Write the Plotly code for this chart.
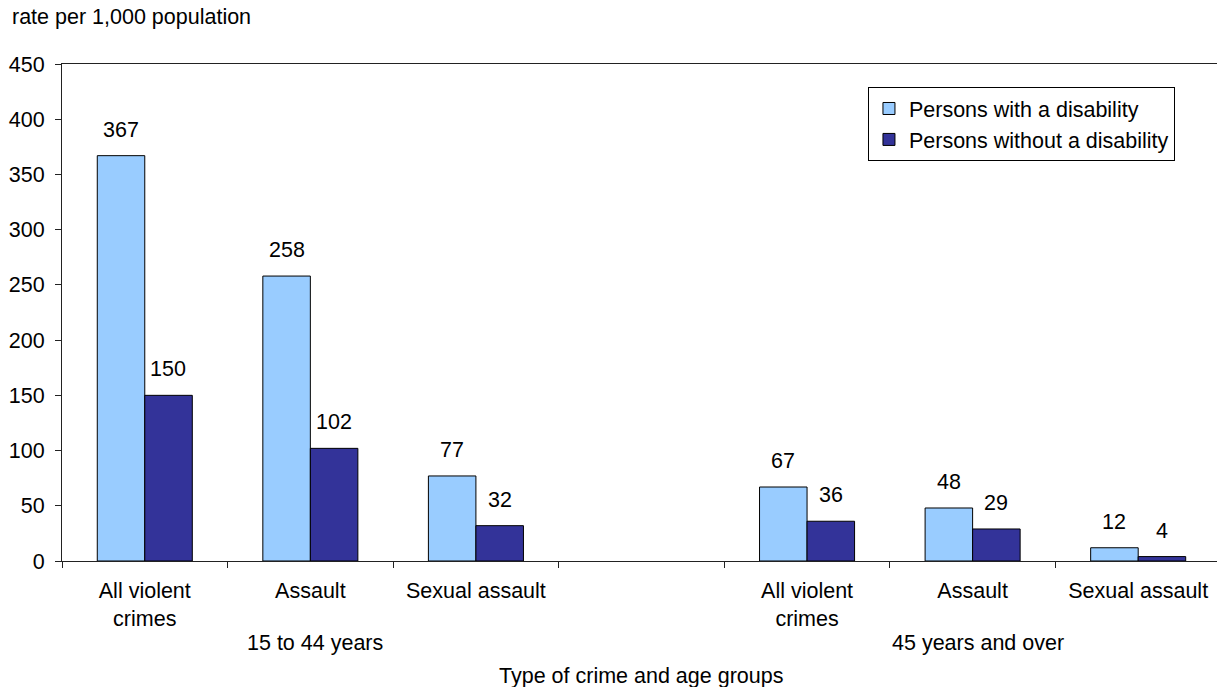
import plotly.graph_objects as go

# ---- data ----
category_ids = ["y1_all", "y1_assault", "y1_sexual", "gap", "y2_all", "y2_assault", "y2_sexual"]
category_labels = ["All violent<br>crimes", "Assault", "Sexual assault", "",
                   "All violent<br>crimes", "Assault", "Sexual assault"]
with_disability = [367, 258, 77, None, 67, 48, 12]
without_disability = [150, 102, 32, None, 36, 29, 4]
series_names = ["Persons with a disability", "Persons without a disability"]
age_groups = ["15 to 44 years", "45 years and over"]
age_group_anchor = ["y1_assault", "y2_assault"]
y_ticks = [0, 50, 100, 150, 200, 250, 300, 350, 400, 450]

FONT = "Liberation Sans, Arial, sans-serif"
FS = 21.5
LIGHT = "#99CCFF"
DARK = "#333399"
AX = "#222222"

fig = go.Figure()
for name, vals, col, grp in [(series_names[0], with_disability, LIGHT, "a"),
                             (series_names[1], without_disability, DARK, "b")]:
    fig.add_trace(go.Bar(
        x=category_ids, y=vals, name=name, legendgroup=grp,
        marker=dict(color=col, line=dict(color="black", width=1)),
    ))

# data labels above each bar
shift = {0: -23.7, 1: 23.7}
for si, vals in enumerate([with_disability, without_disability]):
    for cid, v in zip(category_ids, vals):
        if v is None:
            continue
        fig.add_annotation(x=cid, y=v, xref="x", yref="y", text=str(v),
                           showarrow=False, xshift=shift[si], yshift=26,
                           yanchor="middle", xanchor="center",
                           font=dict(family=FONT, size=FS, color="black"))

# age group labels
for lab, anchor in zip(age_groups, age_group_anchor):
    fig.add_annotation(x=anchor, y=-0.165, xref="x", yref="paper", text=lab,
                       showarrow=False, xshift=5, yanchor="middle",
                       font=dict(family=FONT, size=FS, color="black"))

# x axis title
fig.add_annotation(x="gap", y=-0.231, xref="x", yref="paper",
                   text="Type of crime and age groups", showarrow=False,
                   yanchor="middle", font=dict(family=FONT, size=FS, color="black"))

# y axis title (top-left, horizontal)
fig.add_annotation(x=-0.045, y=1.094, xref="paper", yref="paper",
                   text="rate per 1,000 population", showarrow=False,
                   xanchor="left", yanchor="middle",
                   font=dict(family=FONT, size=FS, color="black"))

fig.update_layout(
    width=1217, height=687,
    margin=dict(l=62, r=0, t=64, b=126, autoexpand=False),
    paper_bgcolor="white", plot_bgcolor="white",
    barmode="group", bargap=0.426, bargroupgap=0,
    font=dict(family=FONT, size=FS, color="black"),
    showlegend=True,
    legend=dict(x=0.9636, y=0.9537, xanchor="right", yanchor="top",
                bgcolor="white", bordercolor="black", borderwidth=1,
                font=dict(family=FONT, size=FS, color="black"),
                tracegroupgap=14, traceorder="normal", itemwidth=30),
    xaxis=dict(type="category", categoryorder="array", categoryarray=category_ids,
               tickmode="array", tickvals=category_ids, ticktext=category_labels,
               range=[-0.5, 6.476], tickson="boundaries", automargin=False,
               ticks="outside", ticklen=6, tickcolor=AX, tickwidth=1,
               showline=True, linecolor=AX, linewidth=1, mirror=True,
               showgrid=False, zeroline=False, ticklabelstandoff=10,
               tickfont=dict(family=FONT, size=FS, color="black")),
    yaxis=dict(range=[0, 450], tickmode="array", tickvals=y_ticks, automargin=False,
               ticks="outside", ticklen=6, tickcolor=AX, tickwidth=1,
               showline=True, linecolor=AX, linewidth=1,
               showgrid=False, zeroline=False, ticklabelstandoff=6,
               tickfont=dict(family=FONT, size=FS, color="black")),
)

fig.write_html("out.html", config={"displayModeBar": False},
               post_script="document.body.style.margin='0';document.body.style.overflow='hidden';")
